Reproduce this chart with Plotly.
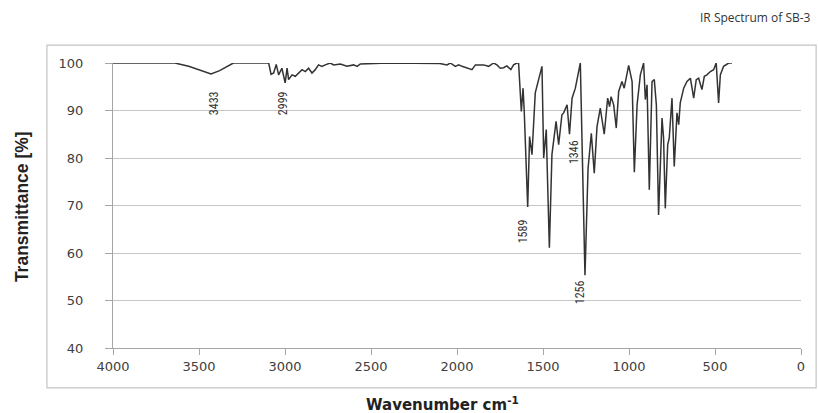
import plotly.graph_objects as go

# IR spectrum
wavenumber = [4000, 3640, 3560, 3480, 3430, 3380, 3330, 3300, 3095, 3081, 3066, 3051, 3037, 3018,
              2999, 2988, 2979, 2959, 2940, 2921, 2901, 2882, 2863, 2843, 2824, 2805, 2785, 2766,
              2737, 2717, 2678, 2640, 2601, 2581, 2562, 2400, 2200, 2100, 2058, 2039, 2010, 1990,
              1971, 1942, 1913, 1893, 1845, 1816, 1787, 1768, 1748, 1729, 1710, 1687, 1671, 1652,
              1642, 1626, 1616, 1609, 1589, 1578, 1564, 1545, 1510, 1506, 1496, 1481, 1477, 1463,
              1448, 1424, 1409, 1390, 1380, 1360, 1346, 1331, 1312, 1299, 1283, 1256, 1238, 1219,
              1202, 1186, 1167, 1144, 1124, 1113, 1104, 1089, 1074, 1060, 1041, 1028, 1002, 982,
              969, 953, 934, 915, 905, 895, 882, 866, 853, 841, 828, 808, 799, 789, 775, 766, 750,
              737, 721, 711, 702, 682, 663, 643, 634, 624, 609, 595, 576, 562, 547, 527, 508, 493,
              479, 469, 450, 420, 401]
transmittance = [100, 100, 99.3, 98.3, 97.7, 98.4, 99.5, 100, 100, 97.6, 97.9, 99.7, 97.5, 98.9,
                 95.8, 98.9, 96.5, 97.5, 97.2, 97.9, 98.6, 98.2, 98.9, 97.9, 98.6, 99.6, 99.3, 99.6,
                 100, 99.6, 99.8, 99.3, 99.6, 99.3, 99.8, 100, 100, 99.9, 99.6, 100, 99.3, 99.6,
                 99.3, 98.9, 98.6, 99.6, 99.6, 99.3, 100, 99.6, 98.9, 99.0, 99.4, 98.6, 99.6, 100,
                 100, 89.8, 94.7, 89.8, 69.7, 84.5, 80.7, 93.7, 98.9, 99.3, 80.0, 86.0, 80.0, 61.1,
                 80.7, 87.7, 82.8, 89.1, 89.5, 91.2, 85.0, 92.6, 94.7, 97.5, 100, 55.3, 77.8, 85.2,
                 76.8, 86.6, 90.5, 85.0, 92.6, 90.8, 92.9, 91.2, 86.3, 94.0, 96.1, 94.7, 99.5, 96.1,
                 77.0, 91.2, 97.5, 100, 92.3, 95.4, 73.3, 96.1, 96.5, 91.2, 68.0, 88.4, 84.2, 69.4,
                 82.8, 84.2, 92.6, 78.2, 89.5, 87.0, 91.6, 94.7, 96.1, 96.8, 94.7, 92.6, 96.5, 96.8,
                 94.4, 97.2, 97.5, 98.2, 98.6, 100, 91.6, 97.5, 99.3, 100, 100]

peak_labels = ["3433", "2999", "1589", "1346", "1256"]
peak_label_x = [3411, 3010, 1615, 1318, 1283]
peak_label_y = [91.6, 91.6, 64.6, 81.3, 51.8]

x_ticks = [4000, 3500, 3000, 2500, 2000, 1500, 1000, 500, 0]
y_ticks = [40, 50, 60, 70, 80, 90, 100]

fig = go.Figure()
fig.add_trace(go.Scatter(
    x=wavenumber, y=transmittance, mode="lines",
    line=dict(color="#333333", width=1.5),
    cliponaxis=False, showlegend=False, hoverinfo="x+y"))

annotations = []
for t, px, py in zip(peak_labels, peak_label_x, peak_label_y):
    annotations.append(dict(x=px, y=py, xref="x", yref="y", text=t, showarrow=False,
                            textangle=-90,
                            font=dict(family="Liberation Sans Narrow, Roboto Condensed, Roboto, sans-serif",
                                      size=12, color="#333333")))

annotations.append(dict(x=-0.132, y=0.495, xref="paper", yref="paper",
                        text="<b>Transmittance [%]</b>", showarrow=False, textangle=-90,
                        xanchor="center", yanchor="middle",
                        font=dict(family="Liberation Sans, Arial, sans-serif",
                                  size=17.5, color="#222222")))
annotations.append(dict(x=0.479, y=-0.196, xref="paper", yref="paper",
                        text="<b>Wavenumber cm<sup>-1</sup></b>", showarrow=False,
                        xanchor="center", yanchor="middle",
                        font=dict(family="DejaVu Sans, sans-serif", size=15, color="#222222")))
annotations.append(dict(x=1.017, y=1.161, xref="paper", yref="paper",
                        text="IR Spectrum of SB-3", showarrow=False,
                        xanchor="right", yanchor="middle",
                        font=dict(family="Open Sans, sans-serif", size=12, color="#333333")))

fig.update_layout(
    width=818, height=413,
    margin=dict(l=113, r=17, t=63, b=65),
    paper_bgcolor="white", plot_bgcolor="white",
    annotations=annotations,
    shapes=[dict(type="rect", xref="paper", yref="paper",
                 x0=-0.096, x1=1.022, y0=-0.140, y1=1.063,
                 line=dict(color="#c4c4c4", width=1.2), layer="above")],
    xaxis=dict(range=[4000, 0], tickvals=x_ticks, ticktext=[str(v) for v in x_ticks],
               showgrid=False, zeroline=False,
               showline=True, linecolor="#a6a6a6", linewidth=1.2,
               ticks="outside", ticklen=6, tickcolor="#a6a6a6",
               tickfont=dict(family="DejaVu Sans, sans-serif", size=13, color="#404040")),
    yaxis=dict(range=[40, 100], tickvals=y_ticks, ticktext=[str(v) for v in y_ticks],
               showgrid=True, gridcolor="#c6c6c6", gridwidth=1.3, zeroline=False,
               showline=True, linecolor="#a6a6a6", linewidth=1.2,
               ticks="outside", ticklen=7, tickcolor="#a6a6a6", ticklabelstandoff=19,
               tickfont=dict(family="DejaVu Sans, sans-serif", size=13, color="#404040")),
)

fig.write_html("out.html", config={"displayModeBar": False},
               post_script="document.body.style.margin='0';document.body.style.padding='0';")
